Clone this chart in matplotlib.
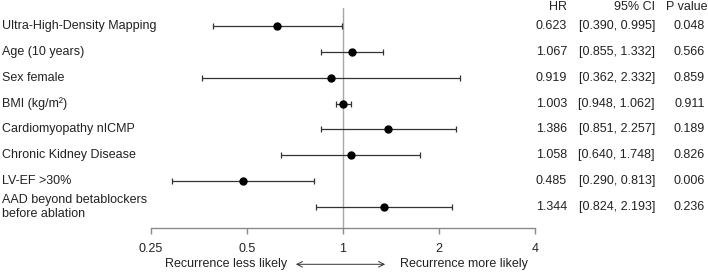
import matplotlib.pyplot as plt
import matplotlib.transforms as mtransforms

plt.rcParams['font.family'] = ['Liberation Sans', 'DejaVu Sans']

# data
labels = ['Ultra-High-Density Mapping', 'Age (10 years)', 'Sex female', 'BMI (kg/m²)',
          'Cardiomyopathy nICMP', 'Chronic Kidney Disease', 'LV-EF >30%',
          'AAD beyond betablockers\nbefore ablation']
hr = [0.623, 1.067, 0.919, 1.003, 1.386, 1.058, 0.485, 1.344]
ci_low = [0.390, 0.855, 0.362, 0.948, 0.851, 0.640, 0.290, 0.824]
ci_high = [0.995, 1.332, 2.332, 1.062, 2.257, 1.748, 0.813, 2.193]
p_values = [0.048, 0.566, 0.859, 0.911, 0.189, 0.826, 0.006, 0.236]
xticks = [0.25, 0.5, 1, 2, 4]
xticklabels = ['0.25', '0.5', '1', '2', '4']

W, H = 708, 272
fig = plt.figure(figsize=(W / 100, H / 100), dpi=100)
ax = fig.add_axes([151 / W, (H - 228) / H, (535 - 151) / W, 220 / H])

ys = list(range(1, len(labels) + 1))
err_lo = [h - l for h, l in zip(hr, ci_low)]
err_hi = [u - h for h, u in zip(hr, ci_high)]

ax.axvline(1, color='#a8a8a8', linewidth=1, zorder=1)
ax.errorbar(hr, ys, xerr=[err_lo, err_hi], fmt='o', color='black', ecolor='#333333',
            elinewidth=0.9, capsize=2.3, capthick=0.9, markersize=5, zorder=3)

ax.set_xscale('log', base=2)
ax.set_xlim(0.25, 4)
ax.set_ylim(8.811, 0.304)
ax.set_xticks(xticks)
ax.set_xticklabels(xticklabels)
ax.minorticks_off()
ax.set_yticks([])
for s in ['top', 'right', 'left']:
    ax.spines[s].set_visible(False)
ax.spines['bottom'].set_color('#8a8a8a')
ax.spines['bottom'].set_linewidth(1)

fs = 9
ax.tick_params(axis='x', length=4, width=1, color='#8a8a8a', pad=7,
               labelsize=fs, labelcolor='#222222')

trans = mtransforms.blended_transform_factory(fig.transFigure, ax.transData)

# labels on the left
for y, lab in zip(ys, labels):
    ax.text(2 / W, y, lab, transform=trans, ha='left', va='center', fontsize=fs,
            color='#222222', linespacing=1.15)

# columns on the right
hdr_y = 0.27
ax.text(567 / W, hdr_y, 'HR', transform=trans, ha='right', va='center', fontsize=fs, color='#222222')
ax.text(655 / W, hdr_y, '95% CI', transform=trans, ha='right', va='center', fontsize=fs, color='#222222')
ax.text(707 / W, hdr_y, 'P value', transform=trans, ha='right', va='center', fontsize=fs, color='#222222')
for y, h, l, u, p in zip(ys, hr, ci_low, ci_high, p_values):
    ax.text(567 / W, y, f'{h:.3f}', transform=trans, ha='right', va='center', fontsize=fs, color='#222222')
    ax.text(655 / W, y, f'[{l:.3f}, {u:.3f}]', transform=trans, ha='right', va='center', fontsize=fs, color='#222222')
    ax.text(705 / W, y, f'{p:.3f}', transform=trans, ha='right', va='center', fontsize=fs, color='#222222')

# direction arrow below axis
ay = -0.165
ax.annotate('', xy=(0.370, ay), xytext=(0.617, ay), xycoords='axes fraction',
            arrowprops=dict(arrowstyle='<->', color='#333333', linewidth=0.7))
ax.text(0.354, ay, 'Recurrence less likely', transform=ax.transAxes, ha='right', va='center',
        fontsize=fs, color='#222222')
ax.text(0.648, ay, 'Recurrence more likely', transform=ax.transAxes, ha='left', va='center',
        fontsize=fs, color='#222222')

fig.savefig('out.png', dpi=100)
